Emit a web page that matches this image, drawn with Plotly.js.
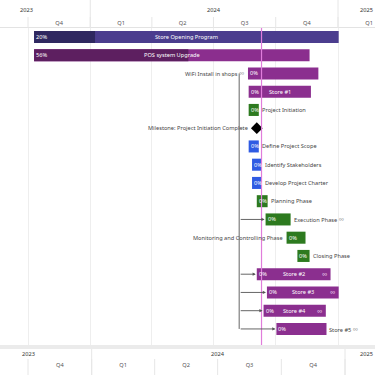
<!DOCTYPE html>
<html><head><meta charset="utf-8">
<script src="https://cdn.plot.ly/plotly-3.0.1.min.js"></script>
<style>html,body{margin:0;padding:0;background:#fff}#chart{width:375px;height:375px}</style>
</head><body><div id="chart"></div>
<script>
// ---------- data ----------
const taskNames = ['Store Opening Program','POS system Upgrade','WiFi Install in shops','Store #1','Project Initiation',
  'Milestone: Project Initiation Complete','Define Project Scope','Identify Stakeholders','Develop Project Charter',
  'Planning Phase','Execution Phase','Monitoring and Controlling Phase','Closing Phase','Store #2','Store #3','Store #4','Store #5'];
const taskStart = ['2023-10-10','2023-10-10','2024-08-21','2024-08-22','2024-08-22','2024-09-03','2024-08-22','2024-08-27',
  '2024-08-27','2024-09-03','2024-09-16','2024-10-17','2024-11-02','2024-09-03','2024-09-18','2024-09-13','2024-10-02'];
const taskEnd = ['2025-01-02','2024-11-20','2024-12-03','2024-11-22','2024-09-06','2024-09-03','2024-09-06','2024-09-10',
  '2024-09-10','2024-09-19','2024-10-23','2024-11-14','2024-11-20','2024-12-21','2025-01-02','2024-12-14','2024-12-15'];
const taskProgress = [0.20,0.56,0,0,0,0,0,0,0,0,0,0,0,0,0,0,0];
const taskType = ['program','pos','store','store','green','milestone','blue','blue','blue','green','green','green','green','store','store','store','store'];
const labelPlace = ['inside','inside','left','inside','right','left','right','right','right','right','right','left','right','inside','inside','inside','right'];
const taskLinked = [false,false,true,false,false,false,false,false,false,false,true,false,false,true,true,true,true];
const depParent = 'WiFi Install in shops';
const depChildren = ['Execution Phase','Store #2','Store #3','Store #4','Store #5'];
const todayDate = '2024-09-10';
const yearLabels = ['2023','2024','2025'];
const yearStarts = ['2024-01-01','2025-01-01'];
const quarterStarts = ['2023-10-01','2024-01-01','2024-04-01','2024-07-01','2024-10-01','2025-01-01'];

// ---------- styles ----------
const colors = {program:'#4b3d8e', pos:'#8b2e8e', store:'#8b2f8f', green:'#2d7a1f', blue:'#2f5be3'};
const progColors = {program:'#2f2860', pos:'#5d1f60'};
const FONT = 'Noto Sans, Open Sans, sans-serif';
const FS = 5.65;
const DAY = 86400000;
const ms = s => new Date(s + 'T00:00:00Z').getTime();
const iso = v => new Date(v).toISOString().slice(0,19).replace('T',' ');

// ---------- traces ----------
const idx = taskNames.map((_,i)=>i).filter(i => taskType[i] !== 'milestone');
const full = {
  type:'bar', orientation:'h', xaxis:'x', yaxis:'y',
  y: idx.map(i=>taskNames[i]), base: idx.map(i=>taskStart[i]),
  x: idx.map(i=>ms(taskEnd[i]) - ms(taskStart[i])),
  marker:{color: idx.map(i=>colors[taskType[i]]), line:{width:0}},
  width:0.66, hoverinfo:'skip', showlegend:false
};
const pidx = idx.filter(i => taskProgress[i] > 0);
const prog = {
  type:'bar', orientation:'h', xaxis:'x', yaxis:'y',
  y: pidx.map(i=>taskNames[i]), base: pidx.map(i=>taskStart[i]),
  x: pidx.map(i=>(ms(taskEnd[i]) - ms(taskStart[i])) * taskProgress[i]),
  marker:{color: pidx.map(i=>progColors[taskType[i]]), line:{width:0}},
  width:0.66, hoverinfo:'skip', showlegend:false
};
const midx = taskNames.map((_,i)=>i).filter(i => taskType[i] === 'milestone');
const miles = {
  type:'scatter', mode:'markers', xaxis:'x', yaxis:'y',
  x: midx.map(i=>taskStart[i]), y: midx.map(i=>taskNames[i]),
  marker:{symbol:'diamond', size:9, color:'#000'}, hoverinfo:'skip', showlegend:false
};

// ---------- annotations ----------
const ann = [];
const icon = c => ' <span style="color:'+c+';font-size:7.5px">∞</span>';
taskNames.forEach((n,i) => {
  const s = ms(taskStart[i]), e = ms(taskEnd[i]);
  const txt = {family:FONT, size:FS, color:'#444'};
  const wtxt = {family:FONT, size:FS, color:'#fff'};
  if (taskType[i] === 'milestone') {
    ann.push({x:taskStart[i], y:n, text:n, showarrow:false, xanchor:'right', xshift:-7, font:txt});
    return;
  }
  ann.push({x:taskStart[i], y:n, text:Math.round(taskProgress[i]*100)+'%', showarrow:false, xanchor:'left', xshift:0, font:wtxt});
  if (labelPlace[i] === 'inside') {
    ann.push({x:iso((s+e)/2), y:n, text:n, showarrow:false, xanchor:'center', font:wtxt});
    if (taskLinked[i]) ann.push({x:taskEnd[i], y:n, text:'∞', showarrow:false, xanchor:'right', xshift:-2, font:{family:FONT,size:7.5,color:'#ecd2ec'}});
  } else if (labelPlace[i] === 'right') {
    ann.push({x:taskEnd[i], y:n, text:n + (taskLinked[i]?icon('#999'):''), showarrow:false, xanchor:'left', xshift:1, font:txt});
  } else {
    ann.push({x:taskStart[i], y:n, text:n + (taskLinked[i]?icon('#999'):''), showarrow:false, xanchor:'right', xshift:-2, font:txt});
  }
});
// dependency connector
const pIdx = taskNames.indexOf(depParent);
const depX = iso(ms(taskStart[pIdx]) - 13*DAY);
depChildren.forEach(c => {
  const ci = taskNames.indexOf(c);
  ann.push({x:taskStart[ci], y:c, ax:depX, axref:'x', ay:0, ayref:'pixel', text:'', showarrow:true,
    arrowhead:2, arrowsize:0.7, arrowwidth:0.9, arrowcolor:'#555', standoff:1});
});
// year labels (header rows)
const yTop = 1 + 18/317, yBot = -9/317;
[[0.072,yTop,0,'center'],[0.571,yTop,1,'center'],[1.0,yTop,2,'right'],[0.075,yBot,0,'center'],[0.581,yBot,1,'center'],[1.0,yBot,2,'right']].forEach(p => {
  ann.push({xref:'paper', yref:'paper', x:p[0], y:p[1], text:yearLabels[p[2]], showarrow:false,
    xanchor:p[3], yanchor:'middle', font:{family:FONT, size:FS, color:'#333'}});
});

// ---------- shapes ----------
const shapes = [];
shapes.push({type:'line', xref:'x', yref:'paper', x0:todayDate, x1:todayDate, y0:0, y1:1, line:{color:'#e07ddb', width:1.2}, layer:'above'});
shapes.push({type:'line', xref:'x', yref:'y', x0:depX, x1:depX, y0:depParent, y1:depChildren[depChildren.length-1], line:{color:'#555', width:0.9}, layer:'above'});
quarterStarts.forEach(q => {
  shapes.push({type:'line', xref:'x', yref:'paper', x0:q, x1:q, ysizemode:'pixel', yanchor:1, y0:0, y1:11, line:{color:'#e6e6e6', width:1}});
  shapes.push({type:'line', xref:'x2', yref:'paper', x0:q, x1:q, ysizemode:'pixel', yanchor:0, y0:-14, y1:-30, line:{color:'#e6e6e6', width:1}});
});
yearStarts.forEach(q => {
  shapes.push({type:'line', xref:'x', yref:'paper', x0:q, x1:q, ysizemode:'pixel', yanchor:1, y0:0, y1:28, line:{color:'#e6e6e6', width:1}});
  shapes.push({type:'line', xref:'x2', yref:'paper', x0:q, x1:q, ysizemode:'pixel', yanchor:0, y0:-3, y1:-30, line:{color:'#e6e6e6', width:1}});
});
shapes.push({type:'rect', xref:'paper', yref:'paper', x0:0, x1:1, ysizemode:'pixel', yanchor:0, y0:-4, y1:0, fillcolor:'#ebebeb', line:{width:0}});

// ---------- layout ----------
const axCommon = {type:'date', tickmode:'linear', tick0:'2023-10-01', dtick:'M3', tickformat:'Q%q', ticklabelmode:'period',
  ticks:'', tickfont:{family:FONT, size:FS, color:'#555'}, zeroline:false, fixedrange:true};
const layout = {
  width:375, height:375, margin:{l:0, r:0, t:28, b:30, pad:0},
  paper_bgcolor:'#fff', plot_bgcolor:'#fff', barmode:'overlay', showlegend:false,
  font:{family:FONT, size:FS},
  xaxis: Object.assign({}, axCommon, {side:'top', anchor:'y', range:['2023-08-20 15:00','2025-02-24 16:00'],
    showgrid:true, gridcolor:'#eeeeee', gridwidth:1, showline:true, linecolor:'#e3e3e3', linewidth:1}),
  xaxis2: Object.assign({}, axCommon, {side:'bottom', overlaying:'x', anchor:'y', range:['2023-08-21 13:00','2025-02-13 08:00'],
    showgrid:false, showline:false, ticklabelstandoff:15}),
  yaxis: {type:'category', categoryorder:'array', categoryarray:taskNames, range:[16.88,-0.49],
    showticklabels:false, showgrid:false, zeroline:false, fixedrange:true},
  annotations: ann, shapes: shapes
};
Plotly.newPlot('chart', [full, prog, miles], layout, {staticPlot:true, displayModeBar:false});
</script></body></html>
